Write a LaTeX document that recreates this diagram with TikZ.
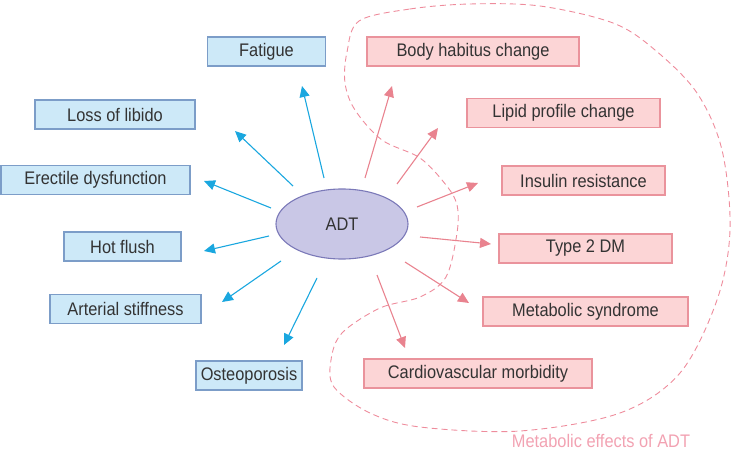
\documentclass[tikz,border=0pt]{standalone}
\usepackage{fontspec}
\setmainfont{Liberation Sans}[FakeStretch=0.9]
\usetikzlibrary{arrows.meta,shapes.geometric}
\definecolor{bluefill}{HTML}{CDE9F8}
\definecolor{blueedge}{HTML}{7C9DC8}
\definecolor{bluearrow}{HTML}{1AA7DF}
\definecolor{pinkfill}{HTML}{FCD5D6}
\definecolor{pinkedge}{HTML}{EA939C}
\definecolor{pinkarrow}{HTML}{E9838F}
\definecolor{ellfill}{HTML}{C9C7E6}
\definecolor{elledge}{HTML}{7B79B8}
\definecolor{txt}{HTML}{333333}
\definecolor{labeltxt}{HTML}{F2A2B2}
\definecolor{dashcol}{HTML}{EE8C9C}
\tikzset{
  every node/.style={font=\fontsize{18.2}{21}\selectfont, text=txt, inner sep=0pt},
  bluebox/.style={draw=blueedge, fill=bluefill, line width=1.1pt, minimum height=29pt},
  pinkbox/.style={draw=pinkedge, fill=pinkfill, line width=1.1pt, minimum height=29pt},
  bluearr/.style={draw=bluearrow, line width=1.1pt, -{Triangle[length=11pt,width=10pt]}},
  pinkarr/.style={draw=pinkarrow, line width=1.1pt, -{Triangle[length=11pt,width=10pt]}},
  region/.style={draw=dashcol, line width=0.9pt, dash pattern=on 6pt off 4pt}
}
\begin{document}
\begin{tikzpicture}[x=1pt,y=-1pt]
\useasboundingbox (0,0) rectangle (733,454);

% dashed region
\draw[region] plot[smooth cycle, tension=0.55] coordinates {
 (359,21) (410,9) (470,4) (540,6) (613,23) (655,50) (697,93) (722,150)
 (730,230) (717,300) (680,373) (620,413) (520,431) (420,427) (370,413)
 (334,387) (331,360) (342,333) (380,308) (420,297) (446,277) (457,233)
 (457,205) (446,185) (420,158) (382,140) (355,110) (345,83) (347,52)};

% central ellipse
\node[draw=elledge, fill=ellfill, line width=1.1pt, ellipse, minimum width=132pt, minimum height=70pt] (adt) at (342,224) {ADT};

% blue boxes
\node[bluebox, minimum width=118pt] (fat) at (266.5,51.5) {Fatigue};
\node[bluebox, minimum width=160pt] (lib) at (115,114.5) {Loss of libido};
\node[bluebox, minimum width=189pt] (ere) at (95.5,180) {Erectile dysfunction};
\node[bluebox, minimum width=117pt] (hot) at (122.5,246.5) {Hot flush};
\node[bluebox, minimum width=151pt] (art) at (125.5,309) {Arterial stiffness};
\node[bluebox, minimum width=106pt] (ost) at (249,375.5) {Osteoporosis};

% pink boxes
\node[pinkbox, minimum width=212pt] (bod) at (473,51.5) {Body habitus change};
\node[pinkbox, minimum width=193pt] (lip) at (563.5,113) {Lipid profile change};
\node[pinkbox, minimum width=163pt] (ins) at (583.5,180.5) {Insulin resistance};
\node[pinkbox, minimum width=173pt] (typ) at (585.5,248.5) {Type 2 DM};
\node[pinkbox, minimum width=205pt] (met) at (585.5,311.5) {Metabolic syndrome};
\node[pinkbox, minimum width=228pt] (car) at (478,373.5) {Cardiovascular morbidity};

% arrow end points
\coordinate (fatS) at (324,178); \coordinate (fatT) at (302,86);
\coordinate (libS) at (293,186); \coordinate (libT) at (235,131);
\coordinate (ereS) at (271,208); \coordinate (ereT) at (204,181);
\coordinate (hotS) at (269,236); \coordinate (hotT) at (204,251);
\coordinate (artS) at (281,261); \coordinate (artT) at (222,302);
\coordinate (ostS) at (317,278); \coordinate (ostT) at (284,345);
\coordinate (bodS) at (365,178); \coordinate (bodT) at (392,86);
\coordinate (lipS) at (397,184); \coordinate (lipT) at (438,128);
\coordinate (insS) at (417,207); \coordinate (insT) at (478,183);
\coordinate (typS) at (420,237); \coordinate (typT) at (491,244);
\coordinate (metS) at (405,262); \coordinate (metT) at (469,303);
\coordinate (carS) at (377,275); \coordinate (carT) at (405,348);

\draw[bluearr] (fatS) -- (fatT);
\draw[bluearr] (libS) -- (libT);
\draw[bluearr] (ereS) -- (ereT);
\draw[bluearr] (hotS) -- (hotT);
\draw[bluearr] (artS) -- (artT);
\draw[bluearr] (ostS) -- (ostT);
\draw[pinkarr] (bodS) -- (bodT);
\draw[pinkarr] (lipS) -- (lipT);
\draw[pinkarr] (insS) -- (insT);
\draw[pinkarr] (typS) -- (typT);
\draw[pinkarr] (metS) -- (metT);
\draw[pinkarr] (carS) -- (carT);

\node[text=labeltxt] (lab) at (601,441) {Metabolic effects of ADT};
\end{tikzpicture}
\end{document}
